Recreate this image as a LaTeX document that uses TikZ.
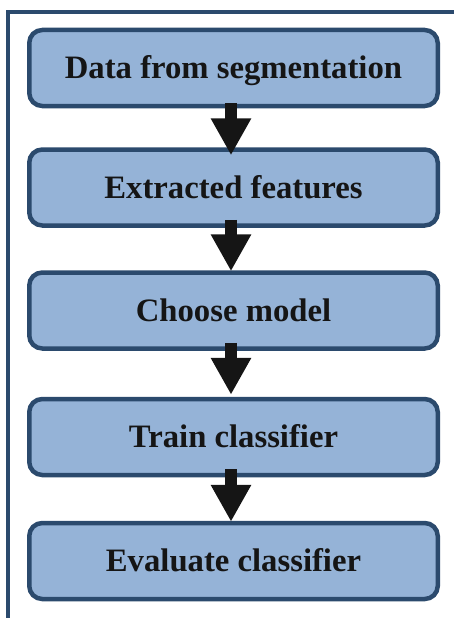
\documentclass[tikz,border=0pt]{standalone}
\usepackage{fontspec}
\setmainfont{Liberation Serif}
\usetikzlibrary{arrows.meta}
\definecolor{boxfill}{HTML}{95B3D7}
\definecolor{boxline}{HTML}{2B4A6D}
\definecolor{arrowc}{HTML}{151515}
\begin{document}
\begin{tikzpicture}[x=1pt,y=-1pt,
  stepbox/.style={draw=boxline, fill=boxfill, line width=4.5pt, rounded corners=13pt,
    minimum width=408.5pt, minimum height=76pt, inner sep=0pt,
    text height=21.6pt, text depth=0.5pt,
    font=\fontsize{32.7}{39}\selectfont\bfseries, text=arrowc},
  flowarrow/.style={draw=arrowc, line width=12pt, -{Triangle[length=37pt,width=38pt]}},
  frameline/.style={draw=boxline, line width=4.2pt}]
\useasboundingbox (0,0) rectangle (454,618);
\coordinate (fa) at (8,618);
\coordinate (fb) at (8,11.7);
\coordinate (fc) at (454,11.7);
\draw[frameline] (fa) -- (fb) -- (fc);
\node[stepbox] (b1) at (233.5,68) {Data from segmentation};
\node[stepbox] (b2) at (233.5,187.5) {Extracted features};
\node[stepbox] (b3) at (233.5,310.5) {Choose model};
\node[stepbox] (b4) at (233.5,437) {Train classifier};
\node[stepbox] (b5) at (233.5,561) {Evaluate classifier};
\draw[flowarrow] ([xshift=-2.5pt,yshift=5pt]b1.south) -- ([xshift=-2.5pt,yshift=-8pt]b2.north);
\draw[flowarrow] ([xshift=-2.5pt,yshift=8pt]b2.south) -- ([xshift=-2.5pt,yshift=-1pt]b3.north);
\draw[flowarrow] ([xshift=-2.5pt,yshift=8pt]b3.south) -- ([xshift=-2.5pt,yshift=2pt]b4.north);
\draw[flowarrow] ([xshift=-2.5pt,yshift=8pt]b4.south) -- ([xshift=-2.5pt,yshift=-1pt]b5.north);
\end{tikzpicture}
\end{document}
